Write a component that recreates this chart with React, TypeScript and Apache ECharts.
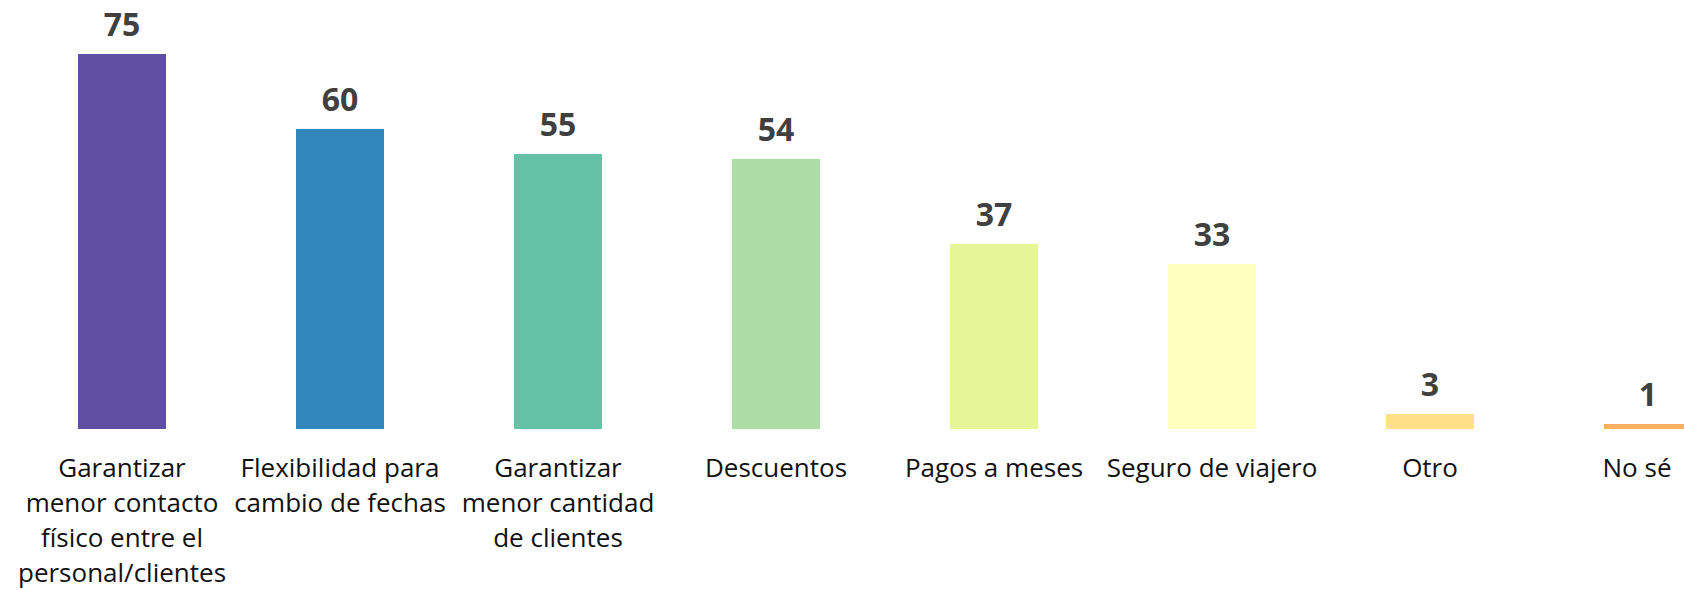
import React, { useEffect, useRef } from "react";
import * as echarts from "echarts";

const categories = [
  "Garantizar\nmenor contacto\nfísico entre el\npersonal/clientes",
  "Flexibilidad para\ncambio de fechas",
  "Garantizar\nmenor cantidad\nde clientes",
  "Descuentos",
  "Pagos a meses",
  "Seguro de viajero",
  "Otro",
  "No sé",
];
const values = [75, 60, 55, 54, 37, 33, 3, 1];
const colors = [
  "#5E4FA2",
  "#3288BD",
  "#66C2A5",
  "#ABDDA4",
  "#E6F598",
  "#FFFFBF",
  "#FEE08B",
  "#FDAE61",
];

export default function App() {
  const ref = useRef<HTMLDivElement>(null);
  useEffect(() => {
    document.body.style.margin = "0";
    if (!ref.current) return;
    const chart = echarts.init(ref.current, null, { renderer: "svg" });
    const last = categories.length - 1;
    chart.setOption({
      animation: false,
      backgroundColor: "#ffffff",
      textStyle: { fontFamily: "Open Sans" },
      grid: {
        left: 13,
        top: 29,
        width: 1744,
        height: 400,
        containLabel: false,
        outerBoundsMode: "none",
      },
      xAxis: {
        type: "category",
        data: categories.map((c, i) =>
          i === last
            ? { value: c, textStyle: { padding: [0, 22, 0, 0] } }
            : { value: c }
        ),
        axisLine: { show: false },
        axisTick: { show: false },
        axisLabel: {
          interval: 0,
          fontSize: 26,
          lineHeight: 35,
          color: "#111111",
          fontFamily: "Open Sans",
          margin: 20,
        },
      },
      yAxis: {
        type: "value",
        min: 0,
        max: 80,
        show: false,
        splitLine: { show: false },
      },
      series: [
        {
          type: "bar",
          barWidth: 88,
          data: values.map((v, i) => ({ value: v, itemStyle: { color: colors[i] } })),
          label: {
            show: true,
            position: "top",
            distance: 15,
            fontSize: 32,
            fontWeight: "bold",
            color: "#404040",
            fontFamily: "Open Sans",
          },
        },
      ],
    });
    return () => chart.dispose();
  }, []);
  return <div ref={ref} style={{ width: 1684, height: 590 }} />;
}
